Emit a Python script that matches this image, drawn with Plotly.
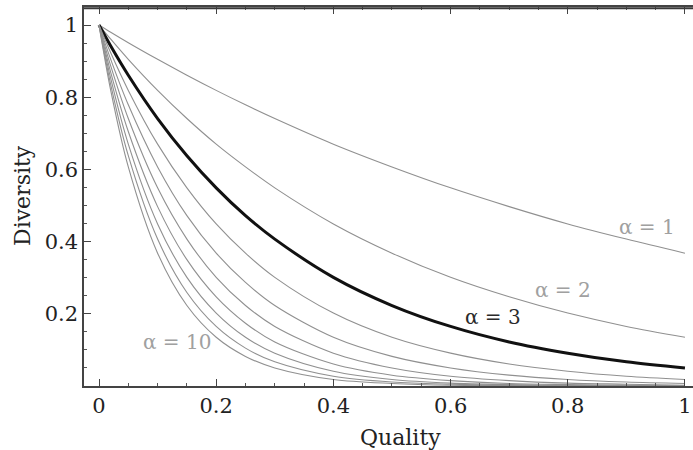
import plotly.graph_objects as go

quality = [0, 0.02, 0.05, 0.1, 0.15, 0.2, 0.25, 0.3, 0.4, 0.5, 0.6, 0.7, 0.8, 0.9, 1.0]
alphas = [1, 2, 3, 4, 5, 6, 7, 8, 9, 10]
diversity = {
    1: [1, .980, .951, .905, .861, .819, .779, .741, .670, .607, .549, .497, .449, .407, .368],
    2: [1, .961, .905, .819, .741, .670, .607, .549, .449, .368, .301, .247, .202, .165, .135],
    3: [1, .942, .861, .741, .638, .549, .472, .407, .301, .223, .165, .122, .091, .067, .050],
    4: [1, .923, .819, .670, .549, .449, .368, .301, .202, .135, .091, .061, .041, .027, .018],
    5: [1, .905, .779, .607, .472, .368, .287, .223, .135, .082, .050, .030, .018, .011, .007],
    6: [1, .887, .741, .549, .407, .301, .223, .165, .091, .050, .027, .015, .008, .005, .002],
    7: [1, .869, .705, .497, .350, .247, .174, .122, .061, .030, .015, .007, .004, .002, .001],
    8: [1, .852, .670, .449, .301, .202, .135, .091, .041, .018, .008, .004, .002, .001, .000],
    9: [1, .835, .638, .407, .259, .165, .105, .067, .027, .011, .005, .002, .001, .000, .000],
    10: [1, .819, .607, .368, .223, .135, .082, .050, .018, .007, .002, .001, .000, .000, .000],
}
x_ticks = [0, 0.2, 0.4, 0.6, 0.8, 1]
x_tick_text = ["0", "0.2", "0.4", "0.6", "0.8", "1"]
y_ticks = [0.2, 0.4, 0.6, 0.8, 1]
y_tick_text = ["0.2", "0.4", "0.6", "0.8", "1"]
labels = [
    ("α = 1", 0.935, 0.44, "#a0a0a0"),
    ("α = 2", 0.792, 0.267, "#a0a0a0"),
    ("α = 3", 0.672, 0.19, "#2a2a2a"),
    ("α = 10", 0.133, 0.122, "#a0a0a0"),
]

FONT = "DejaVu Serif"
fig = go.Figure()
for a in alphas:
    bold = a == 3
    fig.add_trace(go.Scatter(
        x=quality, y=diversity[a], mode="lines",
        line=dict(color="#111111" if bold else "#909090", width=3 if bold else 1.1,
                  shape="spline", smoothing=0.9),
        showlegend=False, hoverinfo="skip"))

for text, x, y, col in labels:
    fig.add_annotation(x=x, y=y, text=text, showarrow=False,
                       font=dict(family=FONT, size=20, color=col))

axis_common = dict(
    showline=True, linecolor="#444444", linewidth=1.5,
    ticks="inside", ticklen=7, tickwidth=1.3, tickcolor="#444444",
    showgrid=False, zeroline=False, automargin=False,
    tickfont=dict(family=FONT, size=21, color="#222222"),
    minor=dict(ticks="inside", ticklen=3.5, tickwidth=1, tickcolor="#555555", dtick=0.05, showgrid=False),
)
fig.update_xaxes(range=[-0.0256, 1.0137], tickvals=x_ticks, ticktext=x_tick_text,
                 mirror="allticks",
                 **axis_common)
fig.update_yaxes(range=[0, 1.05], tickvals=y_ticks, ticktext=y_tick_text,
                 mirror=False,
                 **axis_common)
fig.add_shape(type="line", xref="paper", yref="paper", x0=0, x1=1, y0=0.997, y1=0.997,
              line=dict(color="#3a3a3a", width=2), layer="above")
fig.add_annotation(xref="paper", yref="paper", x=(400 - 84) / 609, y=-(438 - 386) / 381,
                   text="Quality", showarrow=False, yanchor="middle",
                   font=dict(family=FONT, size=22, color="#222222"))
fig.add_annotation(xref="paper", yref="paper", x=-(84 - 22) / 609, y=(386 - 195) / 381,
                   text="Diversity", showarrow=False, textangle=-90, xanchor="center", yanchor="middle",
                   font=dict(family=FONT, size=22, color="#222222"))
fig.update_layout(width=693, height=450, margin=dict(l=84, r=0, t=7, b=64),
                  plot_bgcolor="white", paper_bgcolor="white")
fig.write_html("out.html", config={"displayModeBar": False},
               post_script="document.body.style.margin='0';document.body.style.overflow='hidden';")
